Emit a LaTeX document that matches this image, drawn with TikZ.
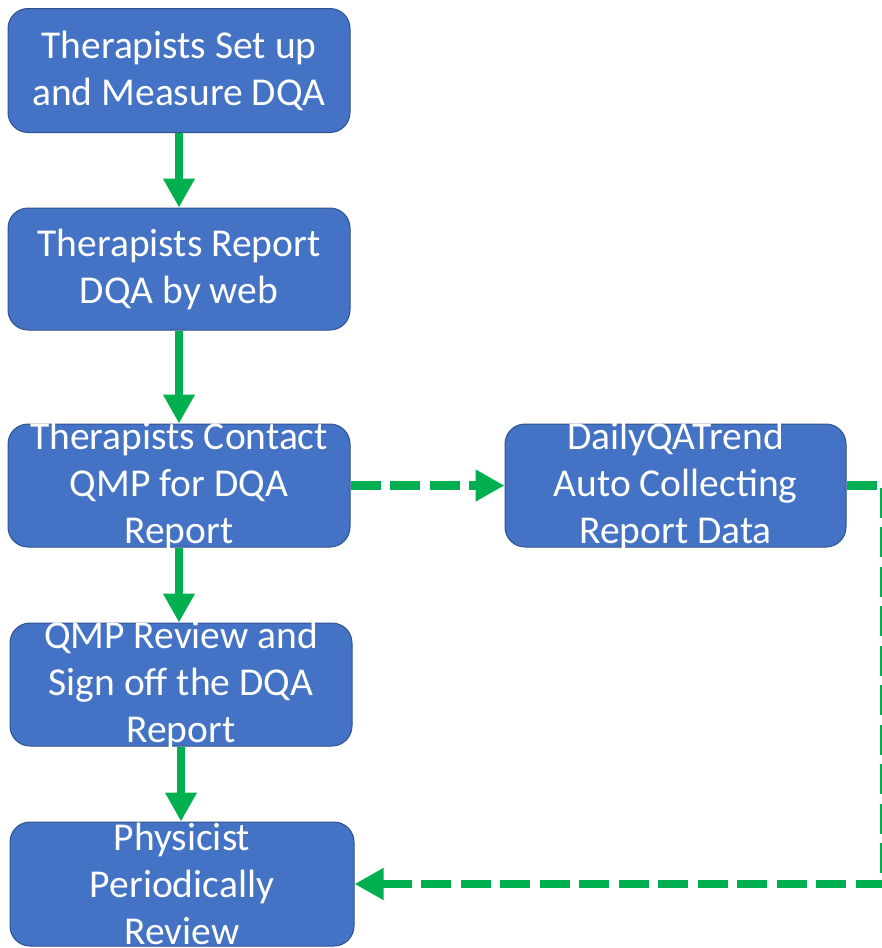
\documentclass[tikz,border=0pt]{standalone}
\usepackage{fontspec}
\setmainfont{Carlito}
\usetikzlibrary{arrows.meta}
\definecolor{boxblue}{HTML}{4472C4}
\definecolor{boxedge}{HTML}{2F528F}
\definecolor{arrowgreen}{HTML}{00B050}
\begin{document}
\begin{tikzpicture}[x=1pt,y=-1pt,
  box/.style={draw=boxedge,line width=1pt,fill=boxblue,rounded corners=20pt,inner sep=0pt,minimum width=342pt,minimum height=124pt},
  boxtext/.style={text=white,align=center,inner sep=0pt,font=\fontsize{39.5}{47}\selectfont},
  flow/.style={draw=arrowgreen,line width=8.5pt,-{Triangle[length=29pt,width=30pt]}},
  dashflow/.style={flow,dash pattern=on 30pt off 9.5pt}]
\useasboundingbox (0,0) rectangle (882,948);
\node[box] (b1) at (179,70.5) {};
\node[box,minimum height=122pt] (b2) at (179,269) {};
\node[box,minimum height=123pt] (b3) at (179,485.5) {};
\node[box,minimum width=341pt,minimum height=123pt] (b4) at (675.5,485.5) {};
\node[box,minimum height=123pt] (b5) at (181,684.5) {};
\node[box,minimum width=344pt] (b6) at (182,884) {};
\node[boxtext] (t1) at (b1.center) {Therapists Set up\\and Measure DQA};
\node[boxtext] (t2) at (b2.center) {Therapists Report\\DQA by web};
\node[boxtext] (t3) at (b3.center) {Therapists Contact\\QMP for DQA\\Report};
\node[boxtext] (t4) at (b4.center) {DailyQATrend\\Auto Collecting\\Report Data};
\node[boxtext] (t5) at (b5.center) {QMP Review and\\Sign off the DQA\\Report};
\node[boxtext] (t6) at (b6.center) {Physicist\\Periodically\\Review};
\coordinate (c1) at (884,485.5);
\coordinate (c2) at (884,884);
\draw[flow] (b1.south) -- (b2.north);
\draw[flow] (b2.south) -- (b3.north);
\draw[flow] (b3.south) -- (b3.south |- b5.north);
\draw[flow] (b5.south) -- (b6.north -| b5.south);
\draw[dashflow] (b3.east) -- (b4.west);
\draw[dashflow] (b4.east) -- (c1) -- (c2) -- (b6.east);
\end{tikzpicture}
\end{document}
